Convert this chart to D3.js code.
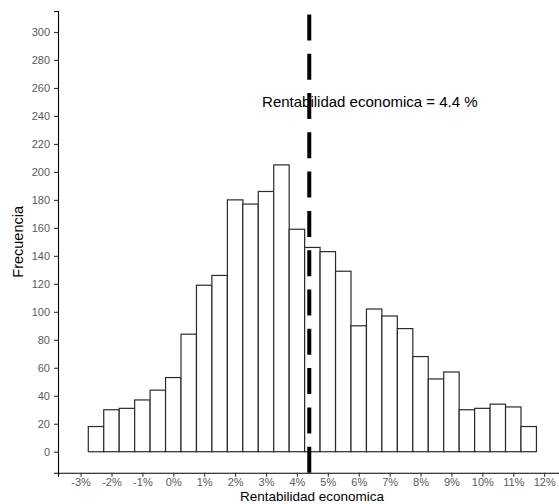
<!DOCTYPE html>
<html>
<head>
<meta charset="utf-8">
<script src="https://cdn.jsdelivr.net/npm/d3@7"></script>
<style>
  html, body { margin: 0; padding: 0; background: #fff; }
  svg { display: block; font-family: "Liberation Sans", Arial, Helvetica, sans-serif; }
</style>
</head>
<body>
<svg id="chart" width="559" height="504"></svg>
<script>
// ---- Data ----
const binStarts = [-2.75, -2.25, -1.75, -1.25, -0.75, -0.25, 0.25, 0.75, 1.25, 1.75,
                   2.25, 2.75, 3.25, 3.75, 4.25, 4.75, 5.25, 5.75, 6.25, 6.75,
                   7.25, 7.75, 8.25, 8.75, 9.25, 9.75, 10.25, 10.75, 11.25];
const binWidth = 0.5;
const counts = [18, 30, 31, 37, 44, 53, 84, 119, 126, 180,
                177, 186, 205, 159, 146, 143, 129, 90, 102, 97,
                88, 68, 52, 57, 30, 31, 34, 32, 18];
const xTicks = [-3, -2, -1, 0, 1, 2, 3, 4, 5, 6, 7, 8, 9, 10, 11, 12];
const yTicks = [0, 20, 40, 60, 80, 100, 120, 140, 160, 180, 200, 220, 240, 260, 280, 300];
const meanValue = 4.4;
const annotationLabel = "Rentabilidad economica = 4.4 %";
const annotationX = 6.36;
const annotationY = 250;
const xTitle = "Rentabilidad economica";
const yTitle = "Frecuencia";

// ---- Layout ----
const svg = d3.select("#chart");
const mLeft = 58, mRight = 559, mTop = 11, mBottom = 472.7;

const x = d3.scaleLinear().domain([-3.73, 12.48]).range([mLeft, mRight]);
const y = d3.scaleLinear().domain([-15, 315]).range([mBottom, mTop]);

// Bars
svg.append("g")
  .selectAll("rect")
  .data(binStarts.map((s, i) => ({ s, c: counts[i] })))
  .join("rect")
  .attr("x", d => x(d.s))
  .attr("width", d => x(d.s + binWidth) - x(d.s))
  .attr("y", d => y(d.c))
  .attr("height", d => y(0) - y(d.c))
  .attr("fill", "#ffffff")
  .attr("stroke", "#2a2a2a")
  .attr("stroke-width", 1.2);

// Axes
const xAxis = svg.append("g")
  .attr("transform", `translate(0,${mBottom})`)
  .call(d3.axisBottom(x).tickValues(xTicks).tickFormat(d => d + "%").tickSizeOuter(0).tickSize(4).tickPadding(1.5));
const yAxis = svg.append("g")
  .attr("transform", `translate(${mLeft},0)`)
  .call(d3.axisLeft(y).tickValues(yTicks).tickSizeOuter(0).tickSize(4).tickPadding(4));

[xAxis, yAxis].forEach(g => {
  g.select(".domain").attr("stroke", "#000").attr("stroke-width", 1.1);
  g.selectAll(".tick line").attr("stroke", "#333").attr("stroke-width", 1.1);
  g.selectAll(".tick text")
    .attr("fill", "#5a5a5a")
    .style("font-family", '"Liberation Sans", Arial, sans-serif')
    .style("font-size", "11px");
});

// Dashed vertical line (drawn bottom to top)
svg.append("line")
  .attr("x1", x(meanValue)).attr("x2", x(meanValue))
  .attr("y1", y(-15)).attr("y2", y(315))
  .attr("stroke", "#000")
  .attr("stroke-width", 4)
  .attr("stroke-dasharray", "26,13.3");

// Annotation
svg.append("text")
  .attr("x", x(annotationX))
  .attr("y", y(annotationY))
  .attr("text-anchor", "middle")
  .attr("dominant-baseline", "central")
  .attr("fill", "#000")
  .style("font-size", "15px")
  .text(annotationLabel);

// Axis titles
svg.append("text")
  .attr("x", 312)
  .attr("y", 501)
  .attr("text-anchor", "middle")
  .attr("fill", "#000")
  .style("font-size", "13.5px")
  .text(xTitle);

svg.append("text")
  .attr("transform", `translate(23,${(mTop + mBottom) / 2}) rotate(-90)`)
  .attr("text-anchor", "middle")
  .attr("fill", "#000")
  .style("font-size", "14.5px")
  .text(yTitle);
</script>
</body>
</html>
